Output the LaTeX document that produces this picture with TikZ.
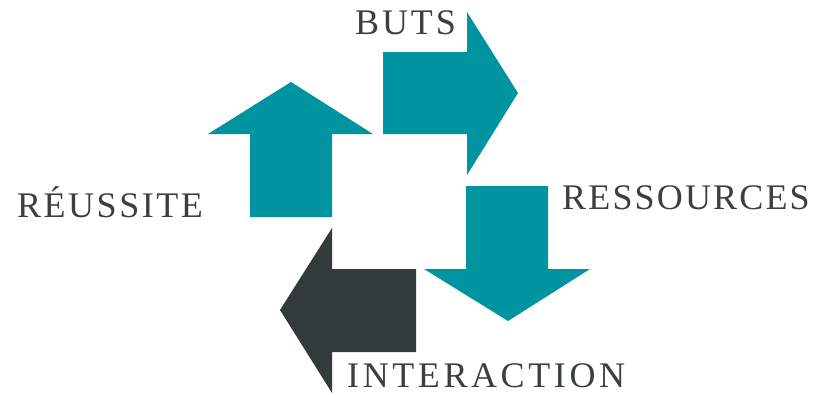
\documentclass[tikz,border=0pt]{standalone}
\usepackage{fontspec}
\setmainfont{Liberation Serif}[LetterSpace=7]
\definecolor{teal}{RGB}{0,147,160}
\definecolor{darkarrow}{RGB}{51,58,58}
\definecolor{labelgray}{RGB}{58,63,63}
\begin{document}
\begin{tikzpicture}[x=1pt,y=-1pt,
  tealarrow/.style={fill=teal,draw=none},
  darkarrowstyle/.style={fill=darkarrow,draw=none},
  lbl/.style={anchor=base west,inner sep=0pt,text=labelgray,font=\fontsize{36}{40}\selectfont}]
\useasboundingbox (0,0) rectangle (824,394);
% up arrow (Réussite)
\fill[tealarrow] (250,217) -- (250,134) -- (208,134) -- (291,82) -- (373,134) -- (332,134) -- (332,217) -- cycle;
% right arrow (Buts)
\fill[tealarrow] (383,52) -- (467,52) -- (467,12) -- (518,93) -- (467,175) -- (467,134) -- (383,134) -- cycle;
% down arrow (Ressources)
\fill[tealarrow] (466,186) -- (548,186) -- (548,269) -- (590,269) -- (508,321) -- (424,269) -- (466,269) -- cycle;
% left arrow (Interaction)
\fill[darkarrowstyle] (416,269) -- (416,352) -- (332,352) -- (332,393) -- (280,310) -- (332,228) -- (332,269) -- cycle;
\node[lbl] (buts) at (355,34) {\addfontfeature{LetterSpace=8}BUTS};
\node[lbl] (reussite) at (17,217) {RÉUSSITE};
\node[lbl] (ressources) at (562,209) {\addfontfeature{LetterSpace=6}RESSOURCES};
\node[lbl] (interaction) at (347,387) {\addfontfeature{LetterSpace=10}INTERACTION};
\end{tikzpicture}
\end{document}
